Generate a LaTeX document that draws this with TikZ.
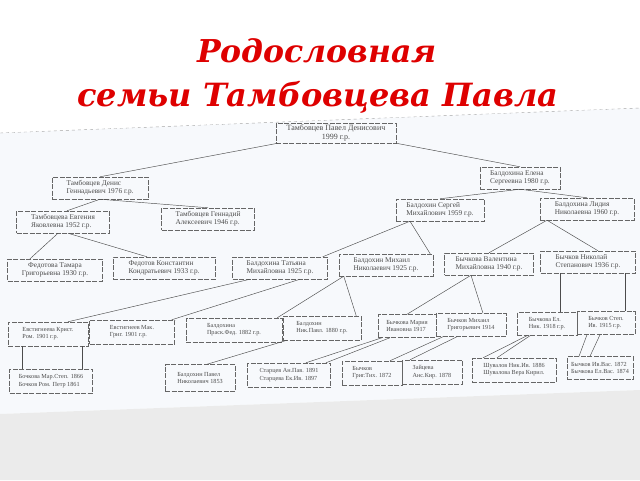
\documentclass[tikz,border=0pt]{standalone}
\usepackage{fontspec}
\setmainfont{Liberation Serif}
\newfontfamily\titlefont{DejaVu Serif}
\definecolor{titlered}{RGB}{222,0,0}
\definecolor{paper}{RGB}{247,249,252}
\definecolor{desk}{RGB}{235,235,235}
\tikzstyle{person}=[draw=black!60, line width=0.45pt, dash pattern=on 5pt off 1.5pt, text=black!70, font=\fontsize{7.3}{8}\selectfont, align=left, inner sep=2pt, minimum height=22pt]
\tikzstyle{oldperson}=[person, font=\fontsize{6.2}{7.2}\selectfont, minimum height=24pt]
\tikzstyle{link}=[draw=black!70, line width=0.45pt]

\begin{document}
\begin{tikzpicture}[x=1pt,y=-1pt]
                    \useasboundingbox (0,0) rectangle (640,480);
                    \fill[paper] (0,133) -- (640,108) -- (640,390) -- (0,414) -- cycle;
                    \fill[desk] (0,414) -- (640,390) -- (640,480) -- (0,480) -- cycle;
                    \draw[black!35, dashed, line width=0.4pt] (0,133) -- (640,108);
                    \node[anchor=base, text=titlered, font=\titlefont\bfseries\itshape\fontsize{31.5}{36}\selectfont] (t1) at (317,62) {Родословная};
                    \node[anchor=base, text=titlered, font=\titlefont\bfseries\itshape\fontsize{32}{36}\selectfont] (t2) at (318,106) {семьи Тамбовцева Павла};
                    \node[person, align=center, minimum width=120pt, minimum height=20pt, font=\fontsize{8}{8.6}\selectfont] (p1) at (336,133) {Тамбовцев Павел Денисович\\1999 г.р.};
                    \node[person, minimum width=96pt] (p2) at (100,188) {Тамбовцев Денис\\Геннадьевич 1976 г.р.};
                    \node[person, minimum width=93pt] (p3) at (63,222) {Тамбовцева Евгения\\Яковлевна 1952 г.р.};
                    \node[person, minimum width=93pt] (p4) at (208,219) {Тамбовцев Геннадий\\Алексеевич 1946 г.р.};
                    \node[person, minimum width=80pt] (p5) at (520,178) {Балдохина Елена\\Сергеевна 1980 г.р.};
                    \node[person, minimum width=88pt] (p6) at (440,210) {Балдохин Сергей\\Михайлович 1959 г.р.};
                    \node[person, minimum width=94pt] (p7) at (587,209) {Балдохина Лидия\\Николаевна 1960 г.р.};
                    \node[person, align=center, minimum width=95pt] (p8) at (55,270) {Федотова Тамара\\Григорьевна 1930 г.р.};
                    \node[person, minimum width=102pt] (p9) at (164,268) {Федотов Константин\\Кондратьевич 1933 г.р.};
                    \node[person, minimum width=95pt] (p10) at (280,268) {Балдохина Татьяна\\Михайловна 1925 г.р.};
                    \node[person, minimum width=94pt] (p11) at (386,265) {Балдохин Михаил\\Николаевич 1925 г.р.};
                    \node[person, minimum width=89pt] (p12) at (489,264) {Бычкова Валентина\\Михайловна 1940 г.р.};
                    \node[person, minimum width=95pt] (p13) at (588,262) {Бычков Николай\\Степанович 1936 г.р.};
                    \node[oldperson, minimum width=80pt] (p14) at (48,334) {Евстигнеева Крист.\\Ром. 1901 г.р.};
                    \node[oldperson, minimum width=85pt] (p15) at (132,332) {Евстигнеев Мак.\\Григ. 1901 г.р.};
                    \node[oldperson, minimum width=96pt] (p16) at (234,330) {Балдохина\\Праск.Фед. 1882 г.р.};
                    \node[oldperson, minimum width=78pt] (p17) at (322,328) {Балдохин\\Ник.Павл. 1880 г.р.};
                    \node[oldperson, minimum width=58pt, minimum height=23pt] (p18) at (407,326) {Бычкова Мария\\Ивановна 1917};
                    \node[oldperson, minimum width=70pt, minimum height=23pt] (p19) at (471,325) {Бычков Михаил\\Григорьевич 1914};
                    \node[oldperson, minimum width=60pt, minimum height=23pt] (p20) at (547,324) {Бычкова Ел.\\Ник. 1918 г.р.};
                    \node[oldperson, minimum width=58pt, minimum height=23pt] (p21) at (606,323) {Бычков Степ.\\Ив. 1915 г.р.};
                    \node[oldperson, minimum width=83pt] (p22) at (51,381) {Бочкова Мар.Степ. 1866\\Бочков Ром. Петр 1861};
                    \node[oldperson, minimum width=70pt, minimum height=27pt] (p23) at (200,378) {Балдохин Павел\\Николаевич 1853};
                    \node[oldperson, minimum width=83pt] (p24) at (289,375) {Старцев Ан.Пав. 1891\\Старцева Ек.Ив. 1897};
                    \node[oldperson, minimum width=60pt] (p25) at (372,373) {Бычков\\Григ.Тих. 1872};
                    \node[oldperson, minimum width=60pt] (p26) at (432,372) {Зайцева\\Анс.Кир. 1878};
                    \node[oldperson, minimum width=84pt] (p27) at (514,370) {Шувалов Ник.Ив. 1886\\Шувалова Вера Кирил.};
                    \node[oldperson, minimum width=66pt, minimum height=23pt] (p28) at (600,368) {Бычков Ив.Вас. 1872\\Бычкова Ел.Вас. 1874};
                    \draw[link] ([xshift=2pt]p1.south west) edge (p2.north);
                    \draw[link] (p1.south east) edge (p5.north);
                    \draw[link] (p2.south) edge ([xshift=4pt]p3.north);
                    \draw[link] (p2.south) edge (p4.north);
                    \draw[link] (p5.south) edge (p6.north);
                    \draw[link] (p5.south) edge (p7.north);
                    \draw[link] ([xshift=-5pt]p3.south) edge ([xshift=-25pt]p8.north);
                    \draw[link] ([xshift=5pt]p3.south) edge ([xshift=-17pt]p9.north);
                    \draw[link] ([xshift=-30pt]p6.south) edge ([xshift=-5pt]p10.north east);
                    \draw[link] ([xshift=-30pt]p6.south) edge ([xshift=-3pt]p11.north east);
                    \draw[link] ([xshift=-40pt]p7.south) edge (p12.north);
                    \draw[link] ([xshift=-40pt]p7.south) edge ([xshift=10pt]p13.north);
                    \draw[link] ([xshift=-30pt]p10.south) edge ([xshift=20pt]p14.north);
                    \draw[link] ([xshift=20pt]p10.south) edge ([xshift=-3pt]p15.north east);
                    \draw[link] ([xshift=5pt]p11.south west) edge ([xshift=-5pt]p16.north east);
                    \draw[link] ([xshift=5pt]p11.south west) edge ([xshift=-5pt]p17.north east);
                    \draw[link] ([xshift=-18pt]p12.south) edge (p18.north);
                    \draw[link] ([xshift=-18pt]p12.south) edge ([xshift=12pt]p19.north);
                    \draw[link] ([xshift=-28pt]p13.south) edge ([xshift=13pt]p20.north);
                    \draw[link] ([xshift=37pt]p13.south) edge ([xshift=19pt]p21.north);
                    \draw[link] ([xshift=-26pt]p14.south) edge ([xshift=-29pt]p22.north);
                    \draw[link] ([xshift=34pt]p14.south) edge ([xshift=31pt]p22.north);
                    \draw[link] ([xshift=-35pt]p17.south) edge ([xshift=7pt]p23.north);
                    \draw[link] ([xshift=-25pt]p18.south) edge ([xshift=17pt]p24.north);
                    \draw[link] ([xshift=-17pt]p18.south) edge ([xshift=37pt]p24.north);
                    \draw[link] ([xshift=-28pt]p19.south) edge ([xshift=18pt]p25.north);
                    \draw[link] ([xshift=-14pt]p19.south) edge ([xshift=-22pt]p26.north);
                    \draw[link] ([xshift=-20pt]p20.south) edge ([xshift=-31pt]p27.north);
                    \draw[link] ([xshift=-17pt]p20.south) edge ([xshift=-17pt]p27.north);
                    \draw[link] ([xshift=-19pt]p21.south) edge ([xshift=-21pt]p28.north);
                    \draw[link] ([xshift=-6pt]p21.south) edge ([xshift=-10pt]p28.north);
                    \end{tikzpicture}
\end{document}
